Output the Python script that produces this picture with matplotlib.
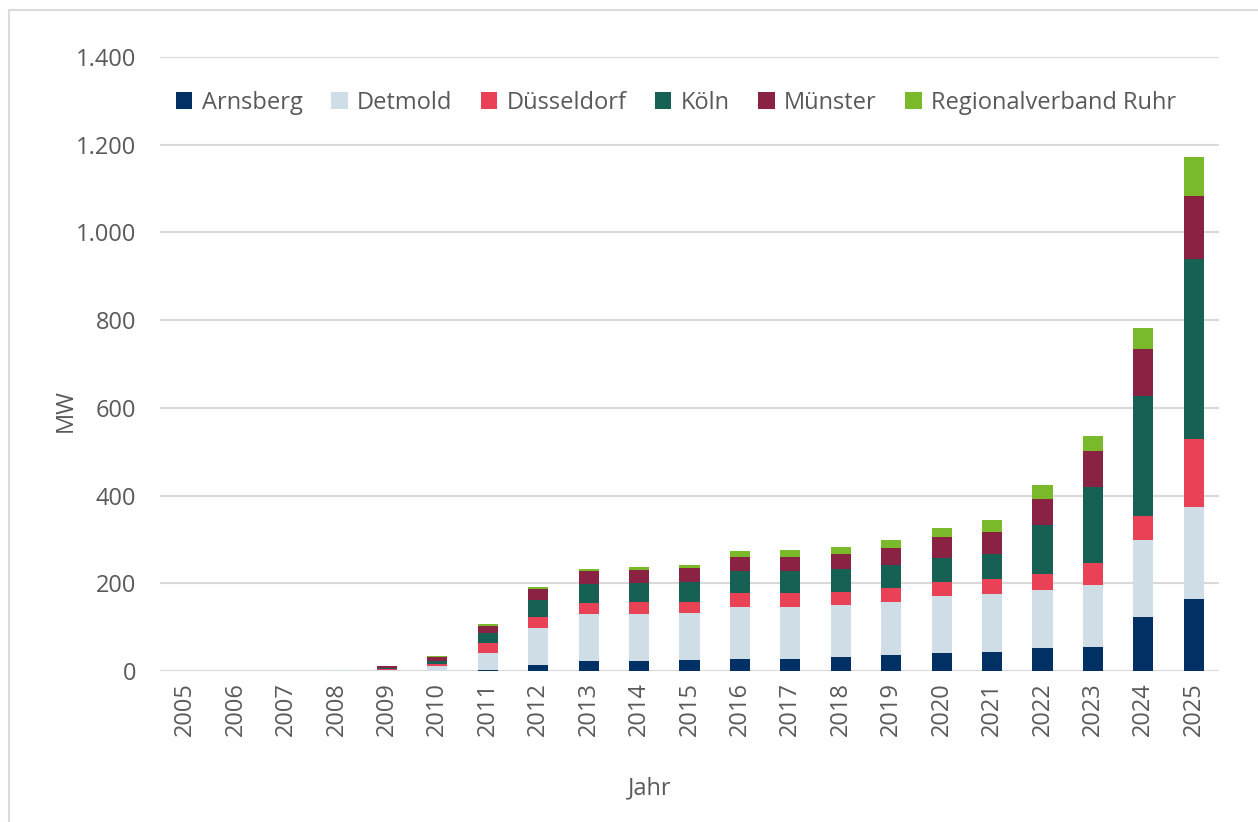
import numpy as np
import matplotlib.pyplot as plt
from matplotlib.patches import Rectangle
from matplotlib.ticker import FuncFormatter

plt.rcParams['font.family'] = ['Open Sans', 'DejaVu Sans']

# Jahre und installierte Leistung (MW) je Regierungsbezirk
years = [str(y) for y in range(2005, 2026)]
arnsberg = [0, 0, 0, 0, 0.5, 1, 3, 14, 23, 23, 24, 27, 28, 31, 36, 40, 43, 52, 55, 122, 165]
detmold = [0, 0, 0, 1.2, 1.5, 11, 39, 84, 106, 108, 109, 120, 118, 120, 122, 130, 133, 133, 140, 176, 209]
duesseldorf = [0, 0, 0, 0.3, 1.5, 5, 22, 24, 25, 26, 25, 30, 31, 30, 31, 34, 34, 36, 51, 55, 155]
koeln = [0, 0, 0, 0.3, 3, 6, 23, 39, 44, 44, 45, 50, 51, 52, 52, 54, 56, 111, 173, 275, 410]
muenster = [0, 0, 0, 0.2, 4.5, 8.5, 16, 27, 29, 29, 31, 32, 33, 34, 39, 47, 52, 60, 83, 107, 145]
ruhr = [0, 0, 0, 0.3, 0.8, 2.5, 4, 4, 6, 6, 8, 15, 15, 15, 19, 21, 27, 32, 33, 47, 89]

series = [
    ('Arnsberg', arnsberg, '#003064'),
    ('Detmold', detmold, '#cfdde6'),
    ('Düsseldorf', duesseldorf, '#e94256'),
    ('Köln', koeln, '#176054'),
    ('Münster', muenster, '#8a2243'),
    ('Regionalverband Ruhr', ruhr, '#7ab929'),
]

text_col = '#595959'
grid_col = '#d9d9d9'
fs = 17

fig = plt.figure(figsize=(12.58, 8.22), dpi=100)
ax = fig.add_axes([160 / 1258, 1 - 671 / 822, (1219 - 160) / 1258, (671 - 57) / 822])

x = np.arange(len(years))
bottom = np.zeros(len(years))
for name, vals, col in series:
    vals = np.array(vals, dtype=float)
    ax.bar(x, vals, 0.4, bottom=bottom, color=col, label=name, linewidth=0)
    bottom += vals

ax.set_xlim(-0.5, len(years) - 0.5)
ax.set_ylim(0, 1400)
ax.set_yticks(range(0, 1401, 200))
ax.yaxis.set_major_formatter(FuncFormatter(lambda v, p: f'{int(v):,}'.replace(',', '.')))
ax.set_xticks(x)
ax.set_xticklabels(years, rotation=90)
ax.grid(axis='y', color=grid_col, linewidth=1.5)
ax.set_axisbelow(True)
for s in ax.spines.values():
    s.set_visible(False)
ax.tick_params(axis='both', length=0, labelsize=fs, colors=text_col)
ax.tick_params(axis='y', pad=17)
ax.tick_params(axis='x', pad=8)

ax.set_ylabel('MW', fontsize=fs, color=text_col)
ax.yaxis.set_label_coords(-0.078, 0.425)
ax.set_xlabel('Jahr', fontsize=fs, color=text_col)
ax.xaxis.set_label_coords(0.462, -0.172)

leg = ax.legend(loc='upper left', bbox_to_anchor=(0.006, 0.96), ncol=6, frameon=False,
                fontsize=fs, handlelength=0.7, handleheight=0.7, handletextpad=0.4,
                columnspacing=1.2, labelcolor=text_col, borderaxespad=0)

# heller Rahmen um die Grafik
fig.patches.append(Rectangle((9 / 1258, -0.1), 1.2, 1 - 10 / 822 + 0.1,
                             transform=fig.transFigure, fill=False,
                             edgecolor=grid_col, linewidth=1.5))

fig.savefig('out.png', dpi=100, facecolor='white')
